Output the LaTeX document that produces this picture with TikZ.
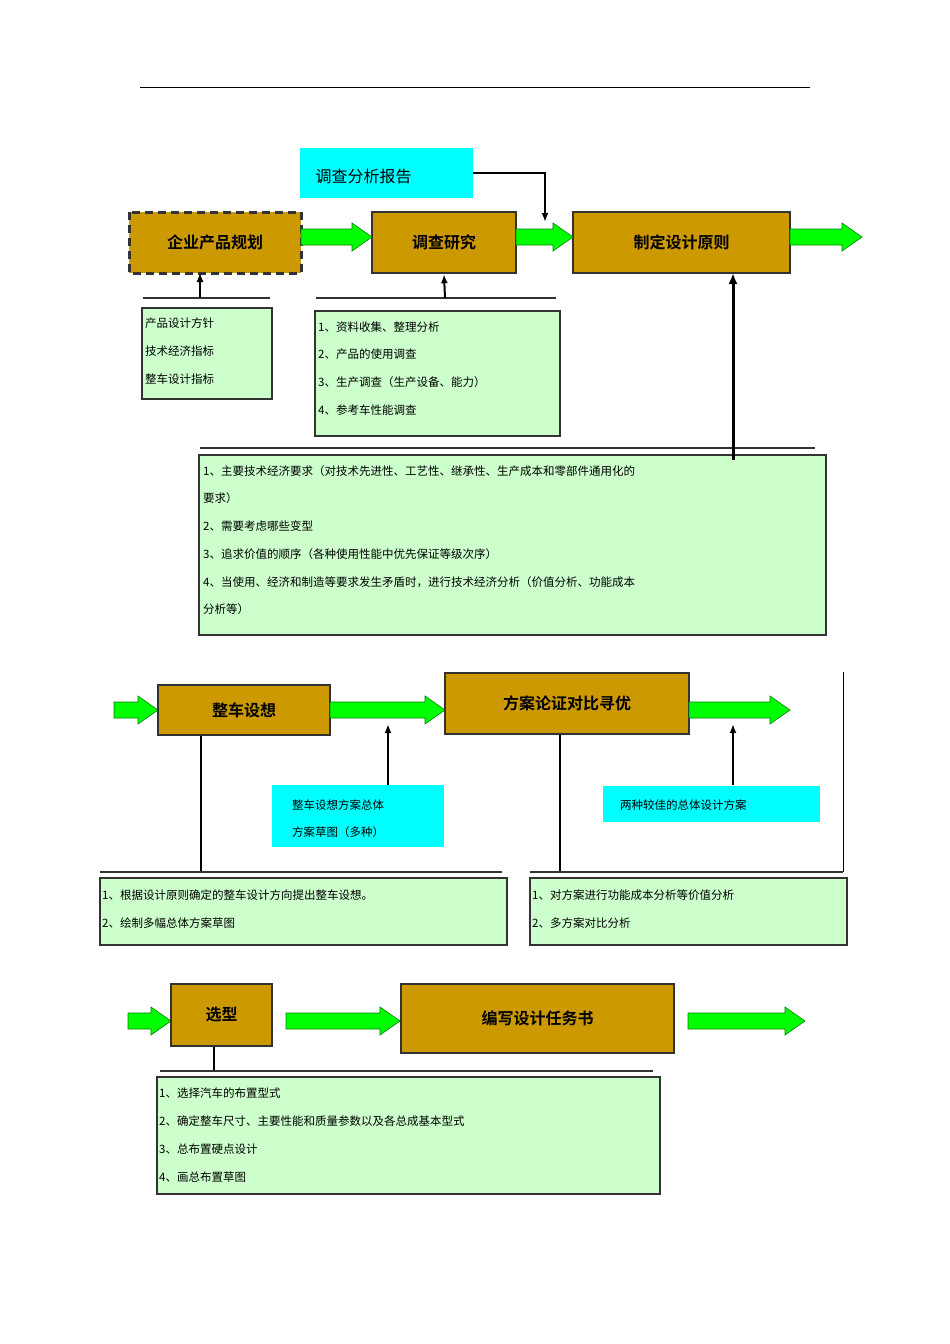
\documentclass[tikz,border=0pt]{standalone}
\usepackage{fontspec}
\setmainfont{Noto Sans CJK SC}
\newfontfamily\cjkb{Noto Sans CJK SC Bold}
\usetikzlibrary{arrows.meta}
\definecolor{gold}{HTML}{CC9900}
\definecolor{lgreen}{HTML}{CCFFCC}
\definecolor{bgreen}{HTML}{00FF00}
\definecolor{cyanb}{HTML}{00FFFF}
\newcommand{\garr}[3]{\fill[bgreen,draw=green!50!black,line width=0.6pt] (#1,#3-8)--(#2-20,#3-8)--(#2-20,#3-14)--(#2,#3)--(#2-20,#3+14)--(#2-20,#3+8)--(#1,#3+8)--cycle;}
\begin{document}
\begin{tikzpicture}[x=1pt,y=-1pt,
 gbox/.style={draw=black!80,line width=2.5pt,fill=gold,font=\cjkb\fontsize{16}{16}\selectfont},
 lbox/.style={draw=black!80,line width=1.8pt,fill=lgreen},
 cbox/.style={fill=cyanb},
 lt/.style={anchor=west,font=\fontsize{11.5}{12}\selectfont,inner sep=0pt},
 rl/.style={line width=2pt,black!80},
 up/.style={-{Latex[length=9pt,width=7pt]},line width=1.2pt},
 upb/.style={-{Latex[length=11pt,width=9pt]},line width=3pt}]
\useasboundingbox (0,0) rectangle (950,1344);
\draw[line width=0.8pt] (140,87)--(810,87);
% row 1
\fill[cyanb] (300,148) rectangle (473,198);
\node[anchor=west,font=\fontsize{16}{16}\selectfont] (rep) at (312,176) {调查分析报告};
\coordinate (repe) at (473,173);
\coordinate (rept) at (545,222);
\draw[up,line width=2pt] (repe)-|(rept);
\fill[gold] (129,212) rectangle (301,273);
\draw[black!80,line width=3pt,dash pattern=on 8pt off 5pt] (129,212) rectangle (301,273);
\node[font=\cjkb\fontsize{16}{16}\selectfont] (qy) at (215,242) {企业产品规划};
\node[gbox,minimum width=144pt,minimum height=61pt] (dc) at (444,242.5) {调查研究};
\node[gbox,minimum width=217pt,minimum height=61pt] (zd) at (681.5,242.5) {制定设计原则};
\garr{301}{372}{237}
\garr{516}{573}{237}
\garr{790}{862}{237}
\draw[rl] (143,298)--(270,298);
\coordinate (a1) at (200,298);
\draw[up] (a1)--(200,273);
\draw[lbox] (142,308) rectangle (272,399);
\node[lt] (t1) at (145,323) {产品设计方针};
\node[lt] (t2) at (145,351) {技术经济指标};
\node[lt] (t3) at (145,379) {整车设计指标};
\draw[rl] (316,298)--(556,298);
\coordinate (a2) at (445,298);
\draw[up,line width=2pt] (a2)--(dc.south);
\draw[lbox] (315,311) rectangle (560,436);
\node[lt] at (318,327) {1、资料收集、整理分析};
\node[lt] at (318,354) {2、产品的使用调查};
\node[lt] at (318,382) {3、生产调查（生产设备、能力）};
\node[lt] at (318,410) {4、参考车性能调查};
\draw[rl] (200,448)--(815,448);
\draw[lbox] (199,455) rectangle (826,635);
\coordinate (a3) at (733,460);
\draw[upb] (a3)--(733,273);
\node[lt] at (203,471) {1、主要技术经济要求（对技术先进性、工艺性、继承性、生产成本和零部件通用化的};
\node[lt] at (203,498) {要求）};
\node[lt] at (203,526) {2、需要考虑哪些变型};
\node[lt] at (203,554) {3、追求价值的顺序（各种使用性能中优先保证等级次序）};
\node[lt] at (203,582) {4、当使用、经济和制造等要求发生矛盾时，进行技术经济分析（价值分析、功能成本};
\node[lt] at (203,609) {分析等）};
% row 2
\garr{114}{158}{710}
\node[gbox,minimum width=172pt,minimum height=50pt] (zc) at (244,710) {整车设想};
\garr{330}{445}{710}
\node[gbox,minimum width=244pt,minimum height=61pt] (fa) at (567,703.5) {方案论证对比寻优};
\garr{689}{790}{710}
\fill[cyanb] (272,785) rectangle (444,847);
\node[lt] at (292,805) {整车设想方案总体};
\node[lt] at (292,832) {方案草图（多种）};
\fill[cyanb] (603,786) rectangle (820,822);
\node[lt] at (620,805) {两种较佳的总体设计方案};
\coordinate (b1) at (388,785);
\coordinate (b2) at (733,785);
\draw[up,line width=2pt] (b1)--(388,724);
\draw[up,line width=2pt] (b2)--(733,724);
\coordinate (v1) at (201,872);
\coordinate (v2) at (560,872);
\draw[line width=2pt] (zc.south-|v1)--(v1);
\draw[line width=2pt] (fa.south-|v2)--(v2);
\draw[line width=1pt] (843,672)--(843,872);
\draw[rl] (100,872)--(502,872);
\draw[rl] (530,872)--(843,872);
\draw[lbox] (100,878) rectangle (507,945);
\node[lt] at (102,895) {1、根据设计原则确定的整车设计方向提出整车设想。};
\node[lt] at (102,923) {2、绘制多幅总体方案草图};
\draw[lbox] (530,878) rectangle (847,945);
\node[lt] at (532,895) {1、对方案进行功能成本分析等价值分析};
\node[lt] at (532,923) {2、多方案对比分析};
% row 3
\garr{128}{171}{1021}
\node[gbox,minimum width=101pt,minimum height=62pt] (xx) at (221.5,1015) {选型};
\garr{286}{400}{1021}
\node[gbox,minimum width=273pt,minimum height=69pt] (bx) at (537.5,1018.5) {编写设计任务书};
\garr{688}{805}{1021}
\coordinate (v3) at (214,1071);
\draw[line width=2pt] (xx.south-|v3)--(v3);
\draw[rl] (160,1071)--(653,1071);
\draw[lbox] (157,1077) rectangle (660,1194);
\node[lt] at (159,1093) {1、选择汽车的布置型式};
\node[lt] at (159,1121) {2、确定整车尺寸、主要性能和质量参数以及各总成基本型式};
\node[lt] at (159,1149) {3、总布置硬点设计};
\node[lt] at (159,1177) {4、画总布置草图};
\end{tikzpicture}
\end{document}
